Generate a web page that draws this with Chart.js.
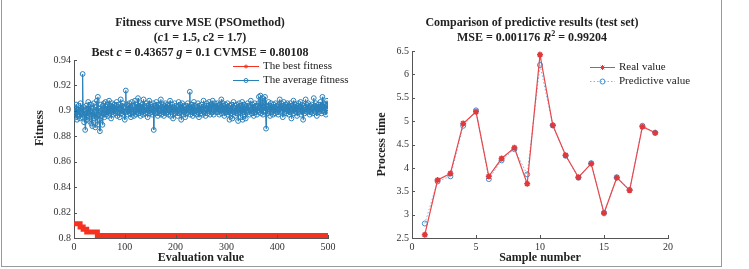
<!DOCTYPE html>
<html>
<head>
<meta charset="utf-8">
<script src="https://cdn.jsdelivr.net/npm/chart.js@4.4.1/dist/chart.umd.min.js"></script>
<style>
  body { margin: 0; background: #fff; }
  #wrap { position: relative; width: 749px; height: 269px; overflow: hidden; font-family: 'Liberation Serif', serif; }
  #frame { position: absolute; left: 1px; top: -2px; width: 719px; height: 268px; border: 1px solid #999; border-top: none; }
  canvas { position: absolute; top: 0; }
  .ttl { position: absolute; text-align: center; font: bold 12px/15px 'Liberation Serif', serif; color: #222; white-space: nowrap; }
</style>
</head>
<body>
<div id="wrap">
  <div id="frame"></div>
  <canvas id="fitChart" width="375" height="269" style="left:0"></canvas>
  <canvas id="testChart" width="346" height="269" style="left:375px"></canvas>
  <div class="ttl" style="left:0;width:400px;top:15px">Fitness curve MSE (PSOmethod)<br>(<i>c</i>1 = 1.5, <i>c</i>2 = 1.7)<br>Best <i>c</i> = 0.43657 <i>g</i> = 0.1 CVMSE = 0.80108</div>
  <div class="ttl" style="left:382px;width:300px;top:15px">Comparison of predictive results (test set)<br>MSE = 0.001176 <i>R</i><sup style="font-size:8px;line-height:0">2</sup> = 0.99204</div>
</div>
<script>
const FONT = "'Liberation Serif', serif";

// left panel: fitness curve
const avgFitness = [
  .898,.902,.895,.905,.899,.893,.901,.897,.904,.896,.900,.894,.906,.899,.902,.895,.929,.897,.903,.891,
  .900,.885,.898,.904,.893,.901,.896,.907,.899,.892,.903,.897,.905,.890,.899,.888,.902,.896,.906,.894,
  .899,.887,.903,.895,.908,.889,.911,.897,.902,.893,.884,.900,.905,.896,.901,.889,.904,.898,.906,.895,
  .901,.907,.897,.903,.899,.905,.896,.902,.908,.898,.904,.900,.894,.903,.906,.899,.902,.897,.905,.901,
  .898,.904,.900,.907,.896,.903,.899,.905,.901,.895,.902,.909,.898,.904,.900,.906,.897,.903,.899,.893,
  .902,.916,.899,.905,.901,.897,.904,.900,.906,.898,.903,.895,.901,.907,.899,.904,.900,.896,.903,.908,
  .901,.897,.905,.899,.903,.910,.898,.904,.900,.906,.896,.902,.899,.905,.901,.897,.909,.900,.904,.898,
  .903,.899,.906,.901,.895,.904,.900,.908,.898,.902,.905,.899,.903,.897,.901,.906,.885,.900,.904,.898,
  .902,.907,.899,.903,.896,.905,.901,.898,.904,.900,.909,.897,.903,.899,.905,.901,.896,.904,.900,.906,
  .898,.903,.899,.905,.901,.897,.904,.900,.908,.896,.902,.899,.905,.901,.894,.903,.900,.906,.898,.902,
  .899,.904,.900,.896,.903,.907,.898,.901,.905,.899,.893,.902,.906,.900,.897,.904,.899,.903,.895,.901,
  .904,.898,.902,.906,.899,.903,.900,.915,.897,.902,.905,.899,.903,.896,.901,.907,.898,.904,.900,.902,
  .897,.903,.899,.906,.901,.895,.904,.900,.902,.898,.905,.901,.897,.903,.908,.899,.904,.900,.896,.902,
  .906,.901,.898,.904,.900,.907,.902,.897,.903,.905,.899,.904,.908,.901,.897,.903,.906,.900,.904,.899,
  .902,.906,.899,.904,.901,.897,.905,.900,.903,.909,.898,.902,.906,.900,.904,.896,.901,.905,.899,.903,
  .900,.906,.897,.903,.899,.893,.904,.901,.898,.905,.900,.894,.903,.907,.899,.902,.896,.904,.900,.905,
  .898,.903,.892,.901,.906,.899,.904,.895,.902,.900,.907,.893,.903,.899,.905,.897,.901,.894,.904,.900,
  .902,.906,.899,.904,.900,.897,.903,.908,.901,.898,.905,.900,.903,.896,.902,.906,.899,.904,.901,.897,
  .904,.900,.906,.911,.899,.903,.912,.898,.905,.901,.910,.897,.903,.900,.906,.911,.899,.886,.904,.901,
  .898,.903,.907,.900,.904,.896,.902,.906,.899,.903,.901,.897,.905,.900,.903,.898,.906,.901,.904,.899,
  .902,.897,.905,.901,.909,.899,.903,.906,.900,.904,.895,.902,.907,.899,.903,.900,.905,.898,.902,.906,
  .900,.904,.897,.903,.899,.906,.901,.894,.904,.900,.902,.908,.898,.903,.900,.905,.899,.902,.896,.904,
  .901,.906,.899,.903,.900,.907,.897,.902,.905,.900,.893,.904,.901,.898,.903,.909,.900,.905,.899,.902,
  .906,.900,.903,.897,.904,.901,.899,.905,.902,.898,.903,.910,.900,.904,.899,.906,.902,.896,.903,.901,
  .905,.899,.903,.900,.907,.901,.898,.904,.911,.900,.903,.906,.899,.905,.901,.897,.904,.908,.902,.905
];
// best fitness only changes at these iterations
const bestIter = [1, 12, 18, 25, 46, 53, 500];
const bestFit = [0.8126, 0.8113, 0.8087, 0.8069, 0.8048, 0.8019, 0.8019];
const fitTicksX = [0, 100, 200, 300, 400, 500];
const fitTicksY = [0.8, 0.82, 0.84, 0.86, 0.88, 0.9, 0.92, 0.94];

// right panel: test set
const sampleNo = [1, 2, 3, 4, 5, 6, 7, 8, 9, 10, 11, 12, 13, 14, 15, 16, 17, 18, 19];
const realValue = [2.57, 3.74, 3.88, 4.95, 5.2, 3.82, 4.2, 4.43, 3.66, 6.42, 4.91, 4.27, 3.8, 4.09, 3.03, 3.79, 3.52, 4.88, 4.75];
const predValue = [2.81, 3.71, 3.82, 4.9, 5.23, 3.76, 4.16, 4.4, 3.86, 6.2, 4.91, 4.26, 3.79, 4.1, 3.04, 3.8, 3.53, 4.9, 4.75];
const sampleTicksX = [0, 5, 10, 15, 20];
const timeTicksY = [2.5, 3, 3.5, 4, 4.5, 5, 5.5, 6, 6.5];

// MATLAB style ticks pointing into the plot
const inTicks = {
  id: 'inTicks',
  afterDraw(chart) {
    const {ctx, chartArea: a, scales: {x, y}} = chart;
    ctx.save();
    ctx.strokeStyle = '#555';
    ctx.lineWidth = 1;
    ctx.beginPath();
    x.ticks.forEach(t => {
      const px = Math.round(x.getPixelForValue(t.value)) + 0.5;
      ctx.moveTo(px, a.bottom);
      ctx.lineTo(px, a.bottom - 3);
    });
    y.ticks.forEach(t => {
      const py = Math.round(y.getPixelForValue(t.value)) + 0.5;
      ctx.moveTo(a.left, py);
      ctx.lineTo(a.left + 3, py);
    });
    ctx.stroke();
    ctx.restore();
  }
};

// legend drawn inside the axes, line + marker sample
const boxLegend = {
  id: 'boxLegend',
  afterDraw(chart, args, o) {
    const ctx = chart.ctx;
    o.items.forEach((it, i) => {
      const y = o.y + i * o.gap;
      ctx.save();
      ctx.strokeStyle = it.line;
      ctx.lineWidth = 1;
      ctx.setLineDash(it.dash || []);
      ctx.beginPath();
      ctx.moveTo(o.x, y + 0.5);
      ctx.lineTo(o.x + o.len, y + 0.5);
      ctx.stroke();
      ctx.setLineDash([]);
      ctx.strokeStyle = it.mark;
      ctx.fillStyle = it.fill;
      Chart.helpers.drawPoint(ctx, {pointStyle: it.style, radius: it.r, rotation: 0, borderWidth: 1}, o.x + o.len / 2, y + 0.5);
      ctx.fillStyle = '#222';
      ctx.font = "11px " + FONT;
      ctx.textBaseline = 'middle';
      ctx.fillText(chart.data.datasets[i].label, o.x + o.len + 4, y);
      ctx.restore();
    });
  }
};

// y title placed by hand (it sits above the middle of the axis in the original)
const sideTitle = {
  id: 'sideTitle',
  afterDraw(chart, args, o) {
    if (!o.text) return;
    const ctx = chart.ctx;
    ctx.save();
    ctx.translate(o.x, o.y);
    ctx.rotate(-Math.PI / 2);
    ctx.font = "bold 12px " + FONT;
    ctx.fillStyle = '#222';
    ctx.textAlign = 'center';
    ctx.textBaseline = 'middle';
    ctx.fillText(o.text, 0, 0);
    ctx.restore();
  }
};

function axis(min, max, ticks, title, titlePad, size) {
  return {
    type: 'linear', min: min, max: max,
    afterBuildTicks: s => { s.ticks = ticks.map(v => ({value: v})); },
    afterFit: s => { if (s.isHorizontal()) s.height = size; else s.width = size; },
    grid: {display: false, drawTicks: false},
    border: {color: '#555', width: 1},
    ticks: {font: {family: FONT, size: 10}, color: '#333', padding: 3, maxRotation: 0, autoSkip: false, callback: v => String(v)},
    title: {display: !!title, text: title, color: '#222', font: {family: FONT, size: 12, weight: 'bold'}, padding: titlePad}
  };
}

new Chart(document.getElementById('fitChart'), {
  type: 'line',
  data: {
    datasets: [{
      label: 'The best fitness',
      data: bestIter.map((it, i) => ({x: it, y: bestFit[i]})),
      borderColor: '#f5311f',
      borderWidth: 5,
      stepped: 'after',
      pointRadius: 0
    }, {
      label: 'The average fitness',
      data: avgFitness.map((v, i) => ({x: i + 1, y: v})),
      borderColor: '#2a80b9',
      borderWidth: 1,
      pointStyle: 'circle',
      pointRadius: 2.4,
      pointBorderWidth: 1,
      pointBorderColor: '#2a80b9',
      pointBackgroundColor: 'rgba(0,0,0,0)'
    }]
  },
  options: {
    responsive: false, animation: false, devicePixelRatio: 1,
    layout: {padding: {left: 0, top: 60, right: 47, bottom: 0}},
    scales: {
      x: axis(0, 500, fitTicksX, 'Evaluation value', {top: 0, bottom: 4}, 31),
      y: axis(0.8, 0.94, fitTicksY, '', 0, 74)
    },
    plugins: {
      legend: {display: false},
      tooltip: {enabled: false},
      sideTitle: {text: 'Fitness', x: 40, y: 128},
      boxLegend: {x: 233, y: 66, gap: 14, len: 26, items: [
        {line: '#f5311f', mark: '#f5311f', fill: '#f5311f', style: 'star', r: 2},
        {line: '#2a80b9', mark: '#2a80b9', fill: 'rgba(0,0,0,0)', style: 'circle', r: 2}
      ]}
    }
  },
  plugins: [inTicks, boxLegend, sideTitle]
});

new Chart(document.getElementById('testChart'), {
  type: 'line',
  data: {
    datasets: [{
      label: 'Real value',
      data: sampleNo.map((n, i) => ({x: n, y: realValue[i]})),
      borderColor: '#e8464a',
      borderWidth: 1.2,
      pointStyle: 'star',
      pointRadius: 3,
      pointBorderWidth: 1.5,
      pointBorderColor: '#e0393c',
      pointBackgroundColor: '#e0393c'
    }, {
      label: 'Predictive value',
      data: sampleNo.map((n, i) => ({x: n, y: predValue[i]})),
      borderColor: '#86b3d9',
      borderWidth: 1,
      borderDash: [1.5, 2],
      pointStyle: 'circle',
      pointRadius: 2.5,
      pointBorderWidth: 1,
      pointBorderColor: '#3d8ed0',
      pointBackgroundColor: 'rgba(0,0,0,0)'
    }]
  },
  options: {
    responsive: false, animation: false, devicePixelRatio: 1,
    layout: {padding: {left: 0, top: 51, right: 53, bottom: 0}},
    scales: {
      x: axis(0, 20, sampleTicksX, 'Sample number', {top: 0, bottom: 4}, 31),
      y: axis(2.5, 6.5, timeTicksY, 'Process time', {top: 0, bottom: 0}, 37)
    },
    plugins: {
      legend: {display: false},
      tooltip: {enabled: false},
      boxLegend: {x: 215, y: 67, gap: 14, len: 25, items: [
        {line: '#e8464a', mark: '#e0393c', fill: '#e0393c', style: 'star', r: 2.5},
        {line: '#86b3d9', dash: [1.5, 2], mark: '#3d8ed0', fill: 'rgba(0,0,0,0)', style: 'circle', r: 2.5}
      ]}
    }
  },
  plugins: [inTicks, boxLegend]
});
</script>
</body>
</html>
